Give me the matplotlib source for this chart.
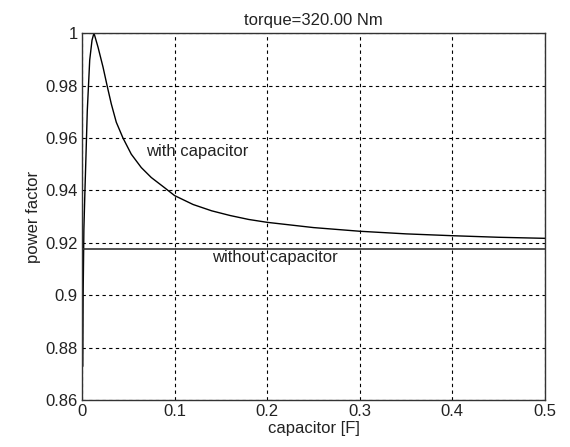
import matplotlib
matplotlib.use("Agg")
import matplotlib.pyplot as plt

plt.rcParams['font.family'] = ['Liberation Sans', 'DejaVu Sans']

cap = [0.0008, 0.0012, 0.002, 0.003, 0.004, 0.0057, 0.0083, 0.0108, 0.0129,
       0.0173, 0.0227, 0.0273, 0.0316, 0.037, 0.0442, 0.0532, 0.064, 0.0748,
       0.0892, 0.10, 0.12, 0.14, 0.16, 0.18, 0.20, 0.25, 0.30, 0.35, 0.40,
       0.45, 0.50]
pf_with = [0.873, 0.90, 0.925, 0.938, 0.950, 0.9705, 0.9897, 0.9973, 1.0,
           0.9946, 0.987, 0.9796, 0.973, 0.966, 0.960, 0.9538, 0.9487, 0.9449,
           0.941, 0.938, 0.9346, 0.9322, 0.9304, 0.9289, 0.9278, 0.9258, 0.9244,
           0.9234, 0.9227, 0.9221, 0.9217]
pf_without = 0.9176

xticks = [0, 0.1, 0.2, 0.3, 0.4, 0.5]
xticklabels = ["0", "0.1", "0.2", "0.3", "0.4", "0.5"]
yticks = [0.86, 0.88, 0.90, 0.92, 0.94, 0.96, 0.98, 1.0]
yticklabels = ["0.86", "0.88", "0.9", "0.92", "0.94", "0.96", "0.98", "1"]

FS = 12
TXT = '#222222'

fig = plt.figure(figsize=(5.7, 4.47), dpi=100)
ax = fig.add_axes([0.1439, 0.105, 0.956 - 0.1439, 0.926 - 0.105])

ax.plot(cap, pf_with, color='black', lw=1.0)
ax.axhline(pf_without, color='#333333', lw=1.2)

ax.set_xlim(0, 0.5)
ax.set_ylim(0.86, 1.0)
ax.set_xticks(xticks)
ax.set_xticklabels(xticklabels)
ax.set_yticks(yticks)
ax.set_yticklabels(yticklabels)
ax.tick_params(direction='in', length=0, labelsize=FS, colors=TXT, pad=3)
ax.grid(True, color='black', linestyle=(0, (3, 3)), lw=0.8)
for s in ax.spines.values():
    s.set_color('#333333')
    s.set_linewidth(1.0)

ax.text(0.069, 0.955, "with capacitor", fontsize=FS, va='center', ha='left', color=TXT)
ax.text(0.140, 0.9142, "without capacitor", fontsize=FS, va='center', ha='left', color=TXT)

ax.set_xlabel("capacitor [F]", fontsize=FS, color=TXT, labelpad=1)
ax.set_ylabel("power factor", fontsize=FS, color=TXT, labelpad=3)
ax.set_title("torque=320.00 Nm", fontsize=FS, color=TXT, pad=6)

fig.savefig("out.png", dpi=100, facecolor='white')
